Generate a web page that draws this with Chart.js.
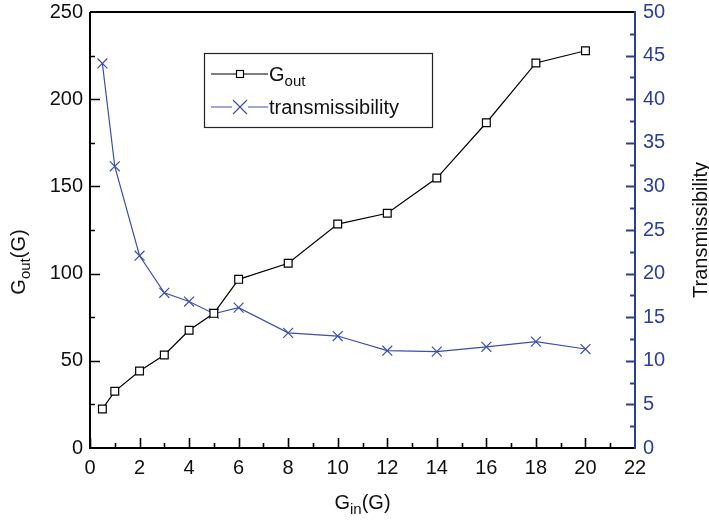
<!DOCTYPE html>
<html><head><meta charset="utf-8">
<script src="https://cdn.jsdelivr.net/npm/chart.js@4/dist/chart.umd.min.js"></script>
<style>html,body{margin:0;padding:0;background:#fff}#wrap{width:709px;height:520px}</style>
</head><body><div id="wrap"><canvas id="c" width="709" height="520"></canvas></div>
<script>
const gin = [0.5, 1, 2, 3, 4, 5, 6, 8, 10, 12, 14, 16, 18, 20];
const gout = [22.4, 32.5, 44.2, 53.3, 67.5, 77.2, 96.7, 105.9, 128.4, 134.6, 154.8, 186.5, 220.8, 227.8];
const transmissibility = [44.1, 32.3, 22.05, 17.8, 16.8, 15.4, 16.1, 13.2, 12.84, 11.16, 11.05, 11.6, 12.2, 11.35];
const xTicks = [0, 2, 4, 6, 8, 10, 12, 14, 16, 18, 20, 22];
const yLeftTicks = [0, 50, 100, 150, 200, 250];
const yRightTicks = [0, 5, 10, 15, 20, 25, 30, 35, 40, 45, 50];

const BLUE = '#3a4fb0';
const AXBLUE = '#2c3e9c';
const FONT = 'Liberation Sans, Arial, Helvetica, sans-serif';

function pts(xs, ys){ return xs.map((x,i)=>({x:x, y:ys[i]})); }

const deco = {
  id: 'deco',
  afterDraw(chart){
    const ctx = chart.ctx;
    const ca = chart.chartArea;
    const sx = chart.scales.x, sy = chart.scales.y, sy2 = chart.scales.y2;
    ctx.save();
    ctx.lineWidth = 2;
    ctx.strokeStyle = '#000';
    ctx.beginPath();
    ctx.moveTo(ca.left, ca.top); ctx.lineTo(ca.right, ca.top);
    ctx.moveTo(ca.left, ca.top); ctx.lineTo(ca.left, ca.bottom); ctx.lineTo(ca.right, ca.bottom);
    ctx.stroke();
    ctx.strokeStyle = AXBLUE;
    ctx.beginPath();
    ctx.moveTo(ca.right, ca.top-1); ctx.lineTo(ca.right, ca.bottom+1);
    ctx.stroke();
    ctx.lineWidth = 1.6;
    ctx.strokeStyle = '#000';
    ctx.beginPath();
    for (let v = 0; v < 22; v += 1) {
      const px = Math.round(sx.getPixelForValue(v)) + 0.5;
      const len = (v % 2 === 0) ? 10 : 5;
      ctx.moveTo(px, ca.bottom); ctx.lineTo(px, ca.bottom - len);
    }
    for (let v = 25; v < 250; v += 25) {
      const py = Math.round(sy.getPixelForValue(v)) + 0.5;
      const len = (v % 50 === 0) ? 10 : 5;
      ctx.moveTo(ca.left, py); ctx.lineTo(ca.left + len, py);
    }
    ctx.stroke();
    ctx.strokeStyle = AXBLUE;
    ctx.lineWidth = 2;
    ctx.beginPath();
    for (let v = 2.5; v < 50; v += 2.5) {
      const py = Math.round(sy2.getPixelForValue(v)) + 0.5;
      const len = (Math.abs(v % 5) < 1e-6) ? 9 : 5;
      ctx.moveTo(ca.right, py); ctx.lineTo(ca.right - len, py);
    }
    ctx.stroke();

    ctx.fillStyle = '#111';
    ctx.textBaseline = 'alphabetic';
    const drawSub = (parts, x, y, align) => {
      const big = '20px ' + FONT, small = '15px ' + FONT;
      let w = 0;
      parts.forEach(p => { ctx.font = p[1] ? small : big; w += ctx.measureText(p[0]).width; });
      let cx = align === 'center' ? x - w/2 : x;
      ctx.textAlign = 'left';
      parts.forEach(p => {
        ctx.font = p[1] ? small : big;
        ctx.fillText(p[0], cx, p[1] ? y + 5 : y);
        cx += ctx.measureText(p[0]).width;
      });
    };
    drawSub([['G',0],['in',1],['(G)',0]], (ca.left+ca.right)/2, 509, 'center');
    ctx.save();
    ctx.translate(25, 262);
    ctx.rotate(-Math.PI/2);
    drawSub([['G',0],['out',1],['(G)',0]], 0, 0, 'center');
    ctx.restore();
    ctx.save();
    ctx.translate(707, 230);
    ctx.rotate(-Math.PI/2);
    ctx.font = '20px ' + FONT;
    ctx.textAlign = 'center';
    ctx.fillText('Transmissibility', 0, 0);
    ctx.restore();

    const lx = 204, ly = 53, lw = 228, lh = 74;
    ctx.lineWidth = 1.2;
    ctx.strokeStyle = '#222';
    ctx.strokeRect(lx + 0.5, ly + 0.5, lw, lh);
    const r1 = 74, r2 = 107;
    ctx.strokeStyle = '#000';
    ctx.beginPath();
    ctx.moveTo(211, r1); ctx.lineTo(236, r1);
    ctx.moveTo(244, r1); ctx.lineTo(268, r1);
    ctx.stroke();
    ctx.strokeRect(236.5, r1 - 3.5, 7, 7);
    ctx.strokeStyle = BLUE;
    ctx.beginPath();
    ctx.moveTo(211, r2); ctx.lineTo(232, r2);
    ctx.moveTo(248, r2); ctx.lineTo(268, r2);
    ctx.moveTo(233, r2 - 7); ctx.lineTo(247, r2 + 7);
    ctx.moveTo(247, r2 - 7); ctx.lineTo(233, r2 + 7);
    ctx.stroke();
    ctx.fillStyle = '#111';
    drawSub([['G',0],['out',1]], 269, r1 + 7, 'left');
    ctx.font = '20px ' + FONT;
    ctx.fillText('transmissibility', 269, r2 + 7);
    ctx.restore();
  }
};

new Chart(document.getElementById('c'), {
  type: 'line',
  data: {
    datasets: [
      {
        label: 'Gout', data: pts(gin, gout), yAxisID: 'y',
        borderColor: '#000', borderWidth: 1.2, backgroundColor: '#fff',
        pointStyle: 'rect', pointRadius: 5.5, pointBorderColor: '#000', pointBorderWidth: 1.2,
        pointBackgroundColor: '#fff', tension: 0
      },
      {
        label: 'transmissibility', data: pts(gin, transmissibility), yAxisID: 'y2',
        borderColor: BLUE, borderWidth: 1.2,
        pointStyle: 'crossRot', pointRadius: 7, pointBorderColor: BLUE, pointBorderWidth: 1.2,
        tension: 0
      }
    ]
  },
  options: {
    responsive: false, animation: false,
    layout: { padding: { top: 12, left: 0, right: 0, bottom: 0 } },
    plugins: { legend: { display: false }, tooltip: { enabled: false } },
    scales: {
      x: {
        type: 'linear', min: 0, max: 22, position: 'bottom',
        afterFit(s){ s.height = 72; s.paddingLeft = 0; s.paddingRight = 0; },
        afterBuildTicks(s){ s.ticks = xTicks.map(v => ({value: v})); },
        grid: { display: false, drawTicks: false },
        border: { display: false },
        ticks: { padding: 8, color: '#111', font: { family: FONT, size: 20 }, maxRotation: 0, autoSkip: false }
      },
      y: {
        type: 'linear', min: 0, max: 250, position: 'left',
        afterFit(s){ s.width = 90; s.paddingTop = 0; s.paddingBottom = 0; },
        afterBuildTicks(s){ s.ticks = yLeftTicks.map(v => ({value: v})); },
        grid: { display: false, drawTicks: false },
        border: { display: false },
        ticks: { padding: 7, color: '#111', font: { family: FONT, size: 20 } }
      },
      y2: {
        type: 'linear', min: 0, max: 50, position: 'right',
        afterFit(s){ s.width = 74; s.paddingTop = 0; s.paddingBottom = 0; },
        afterBuildTicks(s){ s.ticks = yRightTicks.map(v => ({value: v})); },
        grid: { display: false, drawTicks: false },
        border: { display: false },
        ticks: { padding: 8, color: AXBLUE, font: { family: FONT, size: 20 } }
      }
    }
  },
  plugins: [deco]
});
</script>
</body></html>
